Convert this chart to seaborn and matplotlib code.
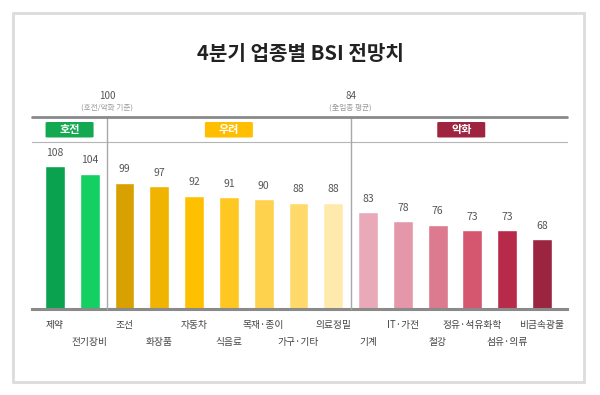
import matplotlib
matplotlib.use("Agg")
import matplotlib.pyplot as plt
import matplotlib.transforms as mtransforms
import seaborn as sns
import pandas as pd
from matplotlib.patches import FancyBboxPatch, Rectangle
from matplotlib.lines import Line2D

sns.set_theme(style="white")
plt.rcParams['font.family'] = ['Noto Sans CJK KR', 'DejaVu Sans']

categories = ["제약", "전기장비", "조선", "화장품", "자동차", "식음료", "목재·종이", "가구·기타",
              "의료정밀", "기계", "IT·가전", "철강", "정유·석유화학", "섬유·의류", "비금속광물"]
values = [108, 104, 99, 97, 92, 91, 90, 88, 88, 83, 78, 76, 73, 73, 68]
colors = ["#0aa24e", "#14cf62", "#d8a000", "#f0b400", "#ffc000", "#ffc722", "#ffd24d", "#ffda6a",
          "#ffeaae", "#eaa9b9", "#e597aa", "#dc7a90", "#d4566f", "#b82a4a", "#9b2540"]
groups = ["호전", "우려", "악화"]
group_colors = ["#14a850", "#ffbf00", "#9e2440"]
group_centers = [0.42, 5.0, 11.68]
ref_values = ["100", "84"]
ref_notes = ["(호전/악화 기준)", "(全업종 평균)"]
ref_positions = [1.5, 8.5]

df = pd.DataFrame({"category": categories, "value": values})

W, H = 600, 395
fig = plt.figure(figsize=(6, 3.95), dpi=100)

def fx(px):
    return px / W

def fy(py):
    return 1 - py / H

ax_left, ax_right, ax_top, ax_bot = 32, 567, 141.5, 309
ax = fig.add_axes([fx(ax_left), fy(ax_bot), fx(ax_right - ax_left), (ax_bot - ax_top) / H])

sns.barplot(data=df, x="category", y="value", hue="category", palette=colors,
            legend=False, width=0.57, ax=ax, saturation=1)
ax.set_xlim(-0.66, 14.72)
ax.set_ylim(30, 121.5)
ax.set_xlabel("")
ax.set_ylabel("")
ax.set_yticks([])
ax.set_xticks([])
for s in ["left", "right"]:
    ax.spines[s].set_visible(False)
ax.spines["top"].set_color("#b5b5b5")
ax.spines["top"].set_linewidth(0.8)
ax.spines["bottom"].set_color("#8a8a8a")
ax.spines["bottom"].set_linewidth(2.2)

for i, v in enumerate(values):
    ax.text(i, v + 7.3, str(v), ha="center", va="center", fontsize=7.5, color="#555555")

blend = mtransforms.blended_transform_factory(ax.transData, fig.transFigure)

# category labels, alternating rows
for i, c in enumerate(categories):
    ypx = 325 if i % 2 == 0 else 342
    ax.text(i, fy(ypx), c, transform=blend, ha="center", va="center",
            fontsize=7, color="#444444")

# vertical separators
for xp in ref_positions:
    fig.add_artist(Line2D([xp, xp], [fy(117), fy(309)], transform=blend,
                          color="#a8a8a8", lw=1.0))

# header thick line
fig.add_artist(Line2D([fx(32), fx(567)], [fy(117), fy(117)], transform=fig.transFigure,
                      color="#8a8a8a", lw=2.0))

# badges
for g, gc, cx in zip(groups, group_colors, group_centers):
    bw = 1.38
    fig.add_artist(FancyBboxPatch((cx - bw / 2, fy(137.5)), bw, 15.5 / H,
                                  boxstyle="round,pad=0,rounding_size=0.08",
                                  transform=blend, facecolor=gc, edgecolor="none",
                                  mutation_aspect=0.02))
    fig.text(cx, fy(129.5), g, transform=blend, ha="center", va="center",
             fontsize=8, color="white", fontweight="bold")

# reference notes
for rv, rn, xp in zip(ref_values, ref_notes, ref_positions):
    fig.text(xp, fy(96), rv, transform=blend, ha="center", va="center", fontsize=7, color="#555555")
    fig.text(xp, fy(107.5), rn, transform=blend, ha="center", va="center", fontsize=5.5, color="#999999")

# title
fig.text(0.5, fy(53.5), "4분기 업종별 BSI 전망치", ha="center", va="center",
         fontsize=14.5, fontweight="bold", color="#222222")

# outer border
fig.add_artist(Rectangle((fx(13), fy(382)), fx(584 - 13), (382 - 13) / H,
                         transform=fig.transFigure, fill=False, edgecolor="#dcdcdc", lw=2))

fig.savefig("out.png", dpi=100)
